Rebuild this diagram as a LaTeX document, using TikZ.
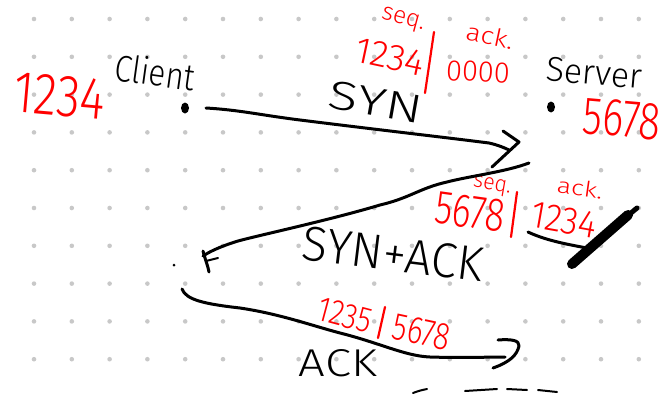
\documentclass[tikz,border=0pt]{standalone}
\usepackage{fontspec}
\setmainfont{Fira Sans Light}
\usepackage{graphicx}
\usetikzlibrary{shapes.geometric}
\definecolor{hred}{RGB}{255,0,0}
\definecolor{dotgray}{RGB}{200,200,200}
\newcommand{\hw}[3]{\resizebox{#1pt}{#2pt}{#3}}
\begin{document}
\begin{tikzpicture}[x=1pt,y=-1pt,
  pen/.style={line width=3pt, line cap=round, line join=round, black},
  redpen/.style={line width=2.2pt, line cap=round, hred},
  blk/.style={inner sep=0pt, text=black},
  rd/.style={inner sep=0pt, text=hred},
  bigdot/.style={ellipse, fill=black, inner sep=0pt, minimum width=8pt, minimum height=11pt}
]
\useasboundingbox (0,0) rectangle (669,394);
% dot grid
\foreach \i in {0,...,16}
  \foreach \j in {0,...,9}
    \fill[dotgray] ({34+37.8*\i},{19+37.8*\j}) circle (2.3pt);

% endpoints
\node[bigdot] (cdot) at (185,108) {};
\node[bigdot] (sdot) at (551,107) {};
\node[circle, fill=black, inner sep=0pt, minimum size=3pt] (cdot2) at (174,265) {};

% labels black
\node[blk, rotate=-8] (client) at (155,72) {\hw{80}{28}{Client}};
\node[blk, rotate=-5] (server) at (594,73) {\hw{96}{24}{Server}};
\node[blk, rotate=-10] (syn) at (376,102) {\hw{95}{28}{SYN}};
\node[blk, rotate=-7] (synack) at (393,254) {\hw{182}{34}{SYN+ACK}};
\node[blk] (ack) at (338,363) {\hw{78}{27}{ACK}};

% red labels
\node[rd, rotate=-5] (cseq) at (60,96) {\hw{91}{40}{1234}};
\node[rd, rotate=-5] (sseq) at (622,119) {\hw{78}{36}{5678}};
\node[rd, rotate=-15] (seqA) at (403,20) {\hw{44}{13}{seq.}};
\node[rd, rotate=-12] (ackA) at (490,36) {\hw{48}{18}{ack.}};
\node[rd, rotate=-12] (n1) at (390,57) {\hw{70}{25}{1234}};
\node[rd, rotate=-3] (n2) at (478,72) {\hw{64}{20}{0000}};
\node[rd, rotate=-10] (seqB) at (492,186) {\hw{38}{12}{seq.}};
\node[rd, rotate=-8] (ackB) at (580,188) {\hw{46}{16}{ack.}};
\node[rd, rotate=-8] (n3) at (470,212) {\hw{70}{32}{5678}};
\node[rd, rotate=-10] (n4) at (564,220) {\hw{66}{26}{1234}};
\node[rd, rotate=-15] (n5) at (345,315) {\hw{55}{24}{1235}};
\node[rd, rotate=-12] (n6) at (422,332) {\hw{58}{26}{5678}};

% red separators
\coordinate (s1a) at (434,32); \coordinate (s1b) at (425,93);
\coordinate (s2a) at (517,192); \coordinate (s2b) at (511,237);
\coordinate (s3a) at (385,307); \coordinate (s3b) at (378,338);
\draw[redpen] (s1a) -- (s1b);
\draw[redpen] (s2a) -- (s2b);
\draw[redpen] (s3a) -- (s3b);

% SYN arrow
\coordinate (synS) at (206,108);
\coordinate (synE) at (509,150);
\draw[pen] (synS) .. controls (240,110) and (260,115) .. (300,120)
  .. controls (380,130) and (450,138) .. (489,143)
  .. controls (498,145) and (505,148) .. (synE);
\draw[pen] (synE) ++(-6,-19) -- ++(16,11) -- ++(-27,25);

% SYN+ACK arrow
\coordinate (saS) at (529,163);
\coordinate (saE) at (203,256);
\draw[pen] (saS) .. controls (505,172) and (470,176) .. (447,182)
  .. controls (420,188) and (410,198) .. (380,205)
  .. controls (330,220) and (260,235) .. (238,241)
  .. controls (225,245) and (212,250) .. (saE);
\draw[pen] (saE) ++(0,-5) .. controls ++(2,8) and ++(-1,-6) .. ++(6,21);
\draw[pen, line width=2pt] (saE) ++(3,5) -- ++(12,-3);

% ACK arrow
\coordinate (akS) at (182,289);
\coordinate (akE) at (505,357);
\draw[pen] (akS) .. controls (186,300) and (205,304) .. (240,308)
  .. controls (280,314) and (310,325) .. (340,333)
  .. controls (380,343) and (405,356) .. (430,357)
  .. controls (460,358) and (490,357) .. (akE);
\draw[pen] (akE) ++(-7,-17) .. controls ++(12,-1) and ++(1,-6) .. ++(21,6)
  .. controls ++(-2,9) and ++(17,-6) .. ++(-26,22);

% line under second ack number and pen cursor
\coordinate (lnA) at (528,232);
\coordinate (lnB) at (587,248);
\draw[pen] (lnA) .. controls (545,240) and (565,244) .. (lnB);
\draw[line width=10pt, line cap=round] (572,264) -- (628,215);
\draw[line width=5pt, line cap=round] (620,222) -- (637,208);

% bottom dashes
\draw[pen, line width=2pt] (413,393) .. controls (418,391) and (422,390) .. (427,389);
\draw[pen, line width=2pt] (465,391) -- (497,389);
\draw[pen, line width=2pt] (507,389) -- (527,390);
\draw[pen, line width=2pt] (538,390) -- (557,392);
\end{tikzpicture}
\end{document}
